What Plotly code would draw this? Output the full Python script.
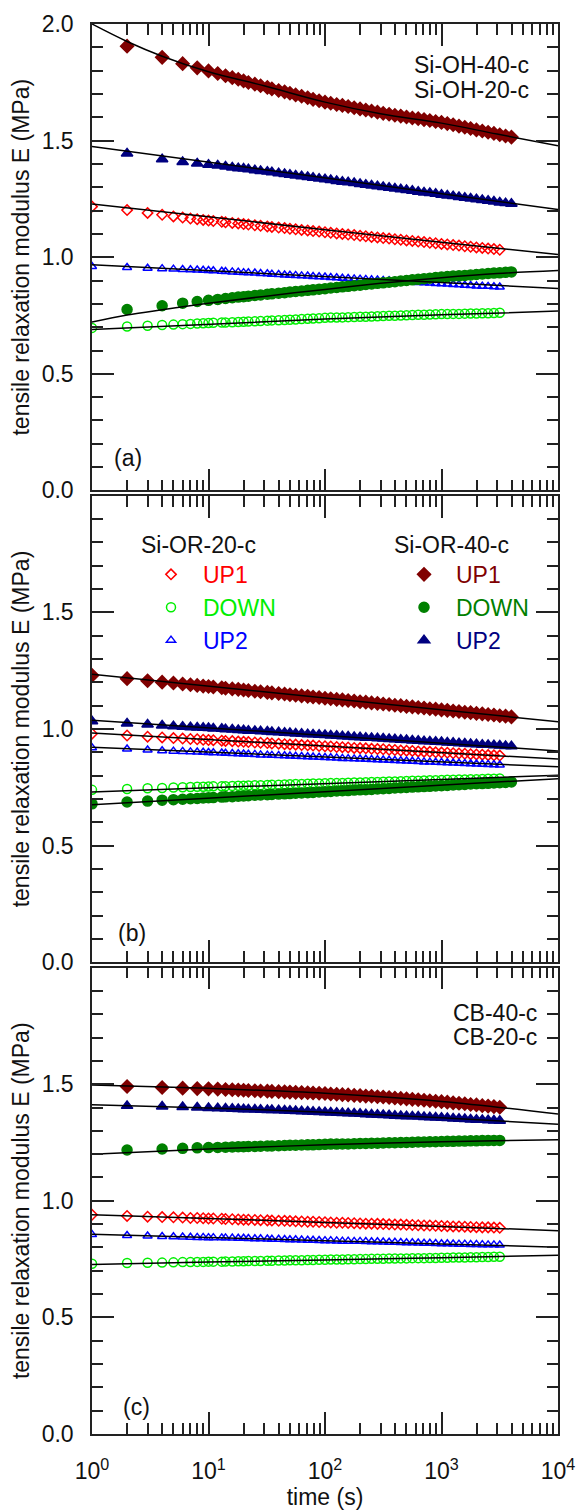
import plotly.graph_objects as go
from plotly.subplots import make_subplots

# ---------------- time grids (s) ----------------
t20 = [1, 2, 3, 4, 5, 6, 7, 8, 9, 10,
       11, 13, 14, 16, 18, 20, 22, 25, 28, 32, 35, 40, 45, 50, 56, 63, 71, 79, 89, 100,
       112, 126, 141, 158, 178, 200, 224, 251, 282, 316, 355, 398, 447, 501, 562, 631, 708, 794, 891, 1000,
       1122, 1259, 1413, 1585, 1778, 1995, 2239, 2512, 2818, 3162]
t40a = [2, 4, 6, 8, 10, 12, 14, 16, 18,
        20, 22, 25, 28, 32, 35, 40, 45, 50, 56, 63, 71, 79, 89, 100,
        112, 126, 141, 158, 178, 200, 224, 251, 282, 316, 355, 398, 447, 501, 562, 631, 708, 794, 891, 1000,
        1122, 1259, 1413, 1585, 1778, 1995, 2239, 2512, 2818, 3162, 3548, 3981]
t40b = [1, 2, 3, 4, 5, 6, 7, 8, 9, 10,
        11, 13, 14, 16, 18, 20, 22, 25, 28, 32, 35, 40, 45, 50, 56, 63, 71, 79, 89, 100,
        112, 126, 141, 158, 178, 200, 224, 251, 282, 316, 355, 398, 447, 501, 562, 631, 708, 794, 891, 1000,
        1122, 1259, 1413, 1585, 1778, 1995, 2239, 2512, 2818, 3162, 3548, 3981]
t40c = [2, 4, 6, 8, 10, 12, 14, 16, 18,
        20, 22, 25, 28, 32, 35, 40, 45, 50, 56, 63, 71, 79, 89, 100,
        112, 126, 141, 158, 178, 200, 224, 251, 282, 316, 355, 398, 447, 501, 562, 631, 708, 794, 891, 1000,
        1122, 1259, 1413, 1585, 1778, 1995, 2239, 2512, 2818, 3162]
t_fit = [1, 10, 100, 1000, 10000]
t_fit_curve = [1, 2, 4, 10, 30, 100, 300, 1000, 3000, 10000]

# ---------------- panel (a) Si-OH ----------------
a20_up1 = [1.217, 1.202, 1.190, 1.182, 1.175, 1.170, 1.166, 1.163, 1.160, 1.157,
           1.155, 1.152, 1.150, 1.147, 1.145, 1.142, 1.140, 1.137, 1.135, 1.132, 1.130, 1.127, 1.125, 1.122,
           1.120, 1.117, 1.115, 1.112, 1.110, 1.107, 1.105, 1.102, 1.100, 1.097, 1.095, 1.092, 1.090, 1.087,
           1.085, 1.082, 1.080, 1.077, 1.075, 1.072, 1.070, 1.067, 1.065, 1.062, 1.060, 1.057, 1.055, 1.052,
           1.050, 1.047, 1.045, 1.042, 1.040, 1.037, 1.035, 1.032]
a20_up2 = [0.960, 0.956, 0.953, 0.951, 0.949, 0.947, 0.946, 0.945, 0.944, 0.943,
           0.942, 0.940, 0.939, 0.937, 0.936, 0.934, 0.933, 0.932, 0.930, 0.929, 0.927, 0.926, 0.924, 0.923,
           0.922, 0.920, 0.919, 0.917, 0.916, 0.915, 0.913, 0.912, 0.910, 0.909, 0.907, 0.906, 0.905, 0.903,
           0.902, 0.900, 0.899, 0.897, 0.896, 0.895, 0.893, 0.892, 0.890, 0.889, 0.887, 0.886, 0.885, 0.883,
           0.882, 0.880, 0.879, 0.877, 0.876, 0.875, 0.873, 0.872]
a20_down = [0.697, 0.703, 0.706, 0.709, 0.711, 0.713, 0.714, 0.716, 0.717, 0.718,
            0.719, 0.720, 0.720, 0.721, 0.722, 0.723, 0.724, 0.725, 0.726, 0.728, 0.729, 0.730, 0.731, 0.732,
            0.733, 0.735, 0.736, 0.737, 0.738, 0.740, 0.741, 0.741, 0.742, 0.743, 0.744, 0.745, 0.745, 0.746,
            0.747, 0.748, 0.749, 0.749, 0.750, 0.751, 0.752, 0.753, 0.753, 0.754, 0.755, 0.756, 0.756, 0.757,
            0.757, 0.758, 0.759, 0.759, 0.760, 0.760, 0.761, 0.762]
a40_up1 = [1.905, 1.857, 1.830, 1.812, 1.799, 1.788, 1.778, 1.770, 1.763,
           1.756, 1.749, 1.742, 1.735, 1.728, 1.722, 1.715, 1.709, 1.703, 1.696, 1.690, 1.684, 1.677, 1.671,
           1.665, 1.660, 1.655, 1.651, 1.646, 1.641, 1.636, 1.631, 1.627, 1.622, 1.617, 1.613, 1.609, 1.605,
           1.601, 1.597, 1.594, 1.590, 1.586, 1.582, 1.578, 1.573, 1.568, 1.562, 1.557, 1.552, 1.546, 1.541,
           1.536, 1.531, 1.525, 1.520, 1.515]
a40_up2 = [1.445, 1.420, 1.408, 1.402, 1.397, 1.393, 1.389, 1.385, 1.382,
           1.380, 1.377, 1.373, 1.370, 1.367, 1.364, 1.360, 1.357, 1.354, 1.350, 1.347, 1.344, 1.341, 1.337,
           1.334, 1.331, 1.327, 1.324, 1.321, 1.318, 1.314, 1.311, 1.308, 1.304, 1.301, 1.298, 1.295, 1.291,
           1.288, 1.285, 1.281, 1.278, 1.275, 1.272, 1.268, 1.265, 1.262, 1.258, 1.255, 1.252, 1.249, 1.245,
           1.242, 1.239, 1.235, 1.232, 1.229]
a40_down = [0.776, 0.792, 0.803, 0.810, 0.815, 0.819, 0.823, 0.826, 0.829,
            0.831, 0.833, 0.836, 0.838, 0.841, 0.843, 0.846, 0.848, 0.851, 0.853, 0.855, 0.858, 0.860, 0.863,
            0.865, 0.868, 0.870, 0.873, 0.875, 0.878, 0.880, 0.883, 0.885, 0.888, 0.890, 0.893, 0.895, 0.898,
            0.900, 0.903, 0.905, 0.908, 0.910, 0.913, 0.915, 0.917, 0.919, 0.920, 0.922, 0.924, 0.926, 0.928,
            0.930, 0.932, 0.933, 0.935, 0.937]
fit_a40_up1 = [2.000, 1.925, 1.862, 1.795, 1.735, 1.665, 1.615, 1.575, 1.528, 1.478]
fit_a40_down = [0.722, 0.752, 0.775, 0.803, 0.832, 0.862, 0.888, 0.912, 0.930, 0.943]
fit_a40_up2 = [1.475, 1.408, 1.338, 1.272, 1.205]
fit_a20_up1 = [1.228, 1.172, 1.118, 1.064, 1.012]
fit_a20_up2 = [0.968, 0.943, 0.917, 0.892, 0.866]
fit_a20_down = [0.690, 0.713, 0.735, 0.753, 0.769]

# ---------------- panel (b) Si-OR ----------------
b20_up1 = [0.980, 0.972, 0.967, 0.964, 0.961, 0.959, 0.957, 0.956, 0.954, 0.953,
           0.952, 0.950, 0.949, 0.948, 0.946, 0.945, 0.944, 0.942, 0.941, 0.940, 0.938, 0.937, 0.935, 0.934,
           0.933, 0.931, 0.930, 0.929, 0.927, 0.926, 0.925, 0.923, 0.922, 0.921, 0.919, 0.918, 0.917, 0.915,
           0.914, 0.913, 0.911, 0.910, 0.908, 0.907, 0.906, 0.904, 0.903, 0.902, 0.900, 0.899, 0.898, 0.896,
           0.895, 0.894, 0.892, 0.891, 0.890, 0.888, 0.887, 0.886]
b20_up2 = [0.920, 0.914, 0.910, 0.907, 0.905, 0.904, 0.902, 0.901, 0.900, 0.899,
           0.898, 0.897, 0.896, 0.895, 0.894, 0.893, 0.892, 0.891, 0.889, 0.888, 0.887, 0.886, 0.885, 0.884,
           0.883, 0.882, 0.881, 0.880, 0.879, 0.878, 0.877, 0.876, 0.874, 0.873, 0.872, 0.871, 0.870, 0.869,
           0.868, 0.867, 0.866, 0.865, 0.864, 0.863, 0.862, 0.861, 0.859, 0.858, 0.857, 0.856, 0.855, 0.854,
           0.853, 0.852, 0.851, 0.850, 0.849, 0.848, 0.847, 0.846]
b20_down = [0.739, 0.743, 0.746, 0.747, 0.749, 0.750, 0.751, 0.752, 0.752, 0.753,
            0.754, 0.754, 0.755, 0.756, 0.757, 0.757, 0.758, 0.759, 0.759, 0.760, 0.761, 0.761, 0.762, 0.763,
            0.764, 0.764, 0.765, 0.766, 0.766, 0.767, 0.768, 0.768, 0.769, 0.770, 0.771, 0.771, 0.772, 0.773,
            0.773, 0.774, 0.775, 0.775, 0.776, 0.777, 0.778, 0.778, 0.779, 0.780, 0.780, 0.781, 0.782, 0.782,
            0.783, 0.784, 0.785, 0.785, 0.786, 0.787, 0.787, 0.788]
b40_up1 = [1.230, 1.216, 1.207, 1.201, 1.197, 1.193, 1.190, 1.187, 1.184, 1.182,
           1.180, 1.177, 1.175, 1.172, 1.170, 1.167, 1.165, 1.162, 1.160, 1.157, 1.155, 1.152, 1.150, 1.147,
           1.145, 1.142, 1.140, 1.137, 1.135, 1.132, 1.130, 1.127, 1.125, 1.122, 1.120, 1.117, 1.115, 1.112,
           1.110, 1.107, 1.105, 1.102, 1.100, 1.097, 1.095, 1.092, 1.090, 1.087, 1.085, 1.082, 1.080, 1.077,
           1.075, 1.072, 1.070, 1.067, 1.065, 1.062, 1.060, 1.057, 1.055, 1.052]
b40_up2 = [1.033, 1.024, 1.019, 1.015, 1.012, 1.010, 1.008, 1.006, 1.005, 1.004,
           1.002, 1.001, 0.999, 0.998, 0.996, 0.995, 0.993, 0.992, 0.990, 0.989, 0.987, 0.986, 0.984, 0.983,
           0.981, 0.980, 0.978, 0.977, 0.975, 0.974, 0.972, 0.971, 0.969, 0.968, 0.966, 0.965, 0.963, 0.962,
           0.960, 0.959, 0.957, 0.956, 0.954, 0.953, 0.951, 0.950, 0.948, 0.947, 0.945, 0.944, 0.942, 0.941,
           0.939, 0.938, 0.936, 0.935, 0.933, 0.932, 0.930, 0.929, 0.927, 0.926]
b40_down = [0.679, 0.687, 0.691, 0.695, 0.697, 0.699, 0.701, 0.702, 0.704, 0.705,
            0.706, 0.708, 0.709, 0.710, 0.712, 0.713, 0.714, 0.716, 0.717, 0.718, 0.719, 0.721, 0.722, 0.723,
            0.725, 0.726, 0.727, 0.728, 0.730, 0.731, 0.732, 0.734, 0.735, 0.736, 0.738, 0.739, 0.740, 0.741,
            0.743, 0.744, 0.745, 0.747, 0.748, 0.749, 0.751, 0.752, 0.753, 0.754, 0.756, 0.757, 0.758, 0.760,
            0.761, 0.762, 0.764, 0.765, 0.766, 0.767, 0.769, 0.770, 0.771, 0.773]
fit_b40_up1 = [1.235, 1.184, 1.133, 1.082, 1.031]
fit_b40_up2 = [1.038, 1.005, 0.972, 0.939, 0.906]
fit_b40_down = [0.675, 0.703, 0.731, 0.759, 0.787]
fit_b20_up1 = [0.983, 0.955, 0.927, 0.899, 0.871]
fit_b20_up2 = [0.922, 0.901, 0.880, 0.859, 0.838]
fit_b20_down = [0.730, 0.748, 0.766, 0.784, 0.802]

# ---------------- panel (c) CB ----------------
c20_up1 = [0.940, 0.935, 0.932, 0.930, 0.929, 0.928, 0.926, 0.926, 0.925, 0.924,
           0.924, 0.923, 0.922, 0.921, 0.920, 0.919, 0.919, 0.918, 0.917, 0.916, 0.915, 0.914, 0.914, 0.913,
           0.912, 0.911, 0.910, 0.910, 0.909, 0.908, 0.907, 0.906, 0.906, 0.905, 0.904, 0.903, 0.902, 0.902,
           0.901, 0.900, 0.899, 0.898, 0.898, 0.897, 0.896, 0.895, 0.894, 0.894, 0.893, 0.892, 0.891, 0.890,
           0.890, 0.889, 0.888, 0.887, 0.886, 0.886, 0.885, 0.884]
c20_up2 = [0.855, 0.851, 0.849, 0.847, 0.846, 0.845, 0.844, 0.843, 0.843, 0.842,
           0.842, 0.841, 0.841, 0.840, 0.839, 0.839, 0.838, 0.837, 0.837, 0.836, 0.835, 0.835, 0.834, 0.833,
           0.833, 0.832, 0.831, 0.831, 0.830, 0.829, 0.829, 0.828, 0.827, 0.827, 0.826, 0.826, 0.825, 0.824,
           0.824, 0.823, 0.822, 0.822, 0.821, 0.820, 0.820, 0.819, 0.818, 0.818, 0.817, 0.816, 0.816, 0.815,
           0.814, 0.814, 0.813, 0.813, 0.812, 0.811, 0.811, 0.810]
c20_down = [0.730, 0.733, 0.734, 0.735, 0.736, 0.737, 0.737, 0.738, 0.738, 0.739,
            0.739, 0.739, 0.740, 0.740, 0.741, 0.741, 0.742, 0.742, 0.742, 0.743, 0.743, 0.744, 0.744, 0.745,
            0.745, 0.745, 0.746, 0.746, 0.747, 0.747, 0.748, 0.748, 0.748, 0.749, 0.749, 0.750, 0.750, 0.751,
            0.751, 0.751, 0.752, 0.752, 0.753, 0.753, 0.754, 0.754, 0.754, 0.755, 0.755, 0.756, 0.756, 0.757,
            0.757, 0.757, 0.758, 0.758, 0.759, 0.759, 0.760, 0.760]
c40_up1 = [1.490, 1.486, 1.483, 1.481, 1.480, 1.479, 1.477, 1.476, 1.475,
           1.474, 1.473, 1.472, 1.471, 1.470, 1.469, 1.468, 1.467, 1.466, 1.465, 1.464, 1.463, 1.462, 1.461,
           1.460, 1.458, 1.457, 1.455, 1.454, 1.452, 1.451, 1.449, 1.448, 1.446, 1.445, 1.443, 1.441, 1.439,
           1.437, 1.435, 1.433, 1.431, 1.429, 1.427, 1.425, 1.423, 1.420, 1.418, 1.416, 1.413, 1.411, 1.408,
           1.406, 1.404, 1.401]
c40_up2 = [1.407, 1.404, 1.402, 1.400, 1.398, 1.397, 1.396, 1.395, 1.394,
           1.393, 1.392, 1.391, 1.390, 1.389, 1.389, 1.388, 1.387, 1.386, 1.385, 1.384, 1.383, 1.382, 1.381,
           1.380, 1.379, 1.378, 1.376, 1.375, 1.374, 1.373, 1.371, 1.370, 1.369, 1.368, 1.367, 1.365, 1.364,
           1.363, 1.362, 1.361, 1.359, 1.358, 1.357, 1.356, 1.355, 1.353, 1.352, 1.351, 1.349, 1.348, 1.347,
           1.345, 1.344, 1.343]
c40_down = [1.218, 1.222, 1.225, 1.227, 1.228, 1.229, 1.230, 1.231, 1.232,
            1.232, 1.233, 1.233, 1.234, 1.235, 1.235, 1.236, 1.237, 1.238, 1.238, 1.239, 1.240, 1.240, 1.241,
            1.242, 1.243, 1.243, 1.244, 1.244, 1.245, 1.246, 1.246, 1.247, 1.247, 1.248, 1.249, 1.249, 1.250,
            1.250, 1.251, 1.252, 1.252, 1.253, 1.253, 1.254, 1.255, 1.255, 1.256, 1.256, 1.257, 1.257, 1.258,
            1.258, 1.259, 1.259]
fit_c40_up1 = [1.497, 1.482, 1.461, 1.426, 1.372]
fit_c40_up2 = [1.412, 1.398, 1.380, 1.356, 1.328]
fit_c40_down = [1.200, 1.222, 1.240, 1.253, 1.262]
fit_c20_up1 = [0.940, 0.924, 0.907, 0.890, 0.872]
fit_c20_up2 = [0.857, 0.843, 0.829, 0.815, 0.801]
fit_c20_down = [0.727, 0.737, 0.746, 0.756, 0.766]

# ---------------- text ----------------
x_tickvals = [1, 10, 100, 1000, 10000]
x_ticktext = ["10<sup>0</sup>", "10<sup>1</sup>", "10<sup>2</sup>", "10<sup>3</sup>", "10<sup>4</sup>"]
x_minor = [2, 3, 4, 5, 6, 7, 8, 9, 20, 30, 40, 50, 60, 70, 80, 90, 200, 300, 400, 500, 600, 700, 800, 900,
           2000, 3000, 4000, 5000, 6000, 7000, 8000, 9000]
y_title = "tensile relaxation modulus E (MPa)"
x_title = "time (s)"

RED, LIME, BLUE = "#FF0000", "#00EE00", "#0000FF"
WINE, GREEN, NAVY = "#800000", "#008000", "#000080"
FONT = "Liberation Sans, Arial, sans-serif"
FS = 23
AX = "#222222"

fig = make_subplots(rows=3, cols=1, shared_xaxes=True, vertical_spacing=0.0038)

STY = {
    "up1_20": dict(symbol="diamond-open", color=RED, size=8),
    "down_20": dict(symbol="circle-open", color=LIME, size=9),
    "up2_20": dict(symbol="triangle-up-open", color=BLUE, size=8),
    "up1_40": dict(symbol="diamond", color=WINE, size=10),
    "down_40": dict(symbol="circle", color=GREEN, size=10),
    "up2_40": dict(symbol="triangle-up", color=NAVY, size=10),
}


def add_markers(row, t, y, key, name=None, legend=None):
    s = STY[key]
    fig.add_trace(go.Scatter(
        x=t, y=y, mode="markers",
        marker=dict(symbol=s["symbol"], color=s["color"], size=s["size"],
                    line=dict(color=s["color"], width=1.5)),
        name=name if name else key, showlegend=name is not None,
        legend=legend if legend else "legend"), row=row, col=1)


def add_fit(row, t, y, curved=False):
    fig.add_trace(go.Scatter(
        x=t, y=y, mode="lines", line=dict(color="black", width=1.5,
                                          shape="spline" if curved else "linear"),
        showlegend=False, hoverinfo="skip"), row=row, col=1)


def lbl(text, color):
    return '<span style="color:%s">%s</span>' % (color, text)


# panel a
add_markers(1, t20, a20_up1, "up1_20")
add_markers(1, t20, a20_down, "down_20")
add_markers(1, t20, a20_up2, "up2_20")
add_markers(1, t40a, a40_up1, "up1_40")
add_markers(1, t40a, a40_down, "down_40")
add_markers(1, t40a, a40_up2, "up2_40")
add_fit(1, t_fit_curve, fit_a40_up1, True)
add_fit(1, t_fit_curve, fit_a40_down, True)
add_fit(1, t_fit, fit_a40_up2)
add_fit(1, t_fit, fit_a20_up1)
add_fit(1, t_fit, fit_a20_up2)
add_fit(1, t_fit, fit_a20_down)

# panel b
add_markers(2, t20, b20_up1, "up1_20", lbl("UP1", RED), "legend")
add_markers(2, t20, b20_down, "down_20", lbl("DOWN", LIME), "legend")
add_markers(2, t20, b20_up2, "up2_20", lbl("UP2", BLUE), "legend")
add_markers(2, t40b, b40_up1, "up1_40", lbl("UP1", WINE), "legend2")
add_markers(2, t40b, b40_down, "down_40", lbl("DOWN", GREEN), "legend2")
add_markers(2, t40b, b40_up2, "up2_40", lbl("UP2", NAVY), "legend2")
for f in (fit_b40_up1, fit_b40_up2, fit_b40_down, fit_b20_up1, fit_b20_up2, fit_b20_down):
    add_fit(2, t_fit, f)

# panel c
add_markers(3, t20, c20_up1, "up1_20")
add_markers(3, t20, c20_down, "down_20")
add_markers(3, t20, c20_up2, "up2_20")
add_markers(3, t40c, c40_up1, "up1_40")
add_markers(3, t40c, c40_down, "down_40")
add_markers(3, t40c, c40_up2, "up2_40")
for f in (fit_c40_up1, fit_c40_up2, fit_c40_down, fit_c20_up1, fit_c20_up2, fit_c20_down):
    add_fit(3, t_fit, f, True)

# axes
for r in (1, 2, 3):
    fig.update_xaxes(
        type="log", range=[0, 4], showline=True, linecolor=AX, linewidth=1.5, mirror="allticks",
        ticks="inside", ticklen=22, tickwidth=1.5, tickcolor=AX, automargin=False,
        tickvals=x_tickvals, ticktext=x_ticktext, showgrid=False, zeroline=False,
        minor=dict(ticks="inside", ticklen=11, tickwidth=1.5, tickcolor=AX, tickvals=x_minor, showgrid=False),
        showticklabels=(r == 3), ticklabelstandoff=16,
        tickfont=dict(family=FONT, size=FS, color="#111"),
        row=r, col=1)
    yt = [0, 0.5, 1.0, 1.5, 2.0] if r == 1 else [0, 0.5, 1.0, 1.5]
    fig.update_yaxes(
        range=[0, 2.0], showline=True, linecolor=AX, linewidth=1.5, mirror="allticks",
        ticks="inside", ticklen=22, tickwidth=1.5, tickcolor=AX, automargin=False,
        tickvals=yt, ticktext=["%.1f" % v for v in yt], showgrid=False, zeroline=False,
        minor=dict(ticks="inside", ticklen=11, tickwidth=1.5, tickcolor=AX, dtick=0.1, tick0=0, showgrid=False),
        ticklabelstandoff=12,
        tickfont=dict(family=FONT, size=FS, color="#111"),
        title=dict(text=y_title, font=dict(family=FONT, size=FS, color="#111"), standoff=6),
        row=r, col=1)

fig.update_xaxes(title=dict(text=x_title, font=dict(family=FONT, size=FS, color="#111"), standoff=6),
                 row=3, col=1)

PL, PR, PT, PB = 92, 20, 24, 77
W, H = 578, 1511
PW, PH = W - PL - PR, H - PT - PB


def px(x):
    return (x - PL) / PW


def py(y):
    return (H - PB - y) / PH


ann = [
    ("Si-OH-40-c", 531, 65, "right"),
    ("Si-OH-20-c", 531, 90, "right"),
    ("CB-40-c", 539, 1013, "right"),
    ("CB-20-c", 539, 1037, "right"),
    ("(a)", 112, 458, "left"),
    ("(b)", 116, 933, "left"),
    ("(c)", 121, 1407, "left"),
]
for text, x, y, xa in ann:
    fig.add_annotation(text=text, xref="paper", yref="paper", x=px(x), y=py(y), xanchor=xa,
                       yanchor="middle", showarrow=False,
                       font=dict(family=FONT, size=FS, color="#111"))

legend_common = dict(bgcolor="rgba(0,0,0,0)", borderwidth=0, xanchor="left", yanchor="top",
                     font=dict(family=FONT, size=FS, color="#111"), itemwidth=54, tracegroupgap=0)
fig.update_layout(
    width=W, height=H, margin=dict(l=PL, r=PR, t=PT, b=PB, autoexpand=False),
    paper_bgcolor="white", plot_bgcolor="white",
    font=dict(family=FONT, size=FS, color="#111"),
    legend=dict(x=px(139), y=py(523), title=dict(text="Si-OR-20-c", font=dict(family=FONT, size=FS)),
                **legend_common),
    legend2=dict(x=px(392), y=py(523), title=dict(text="Si-OR-40-c", font=dict(family=FONT, size=FS)),
                 **legend_common),
)

fig.write_html("out.html")
